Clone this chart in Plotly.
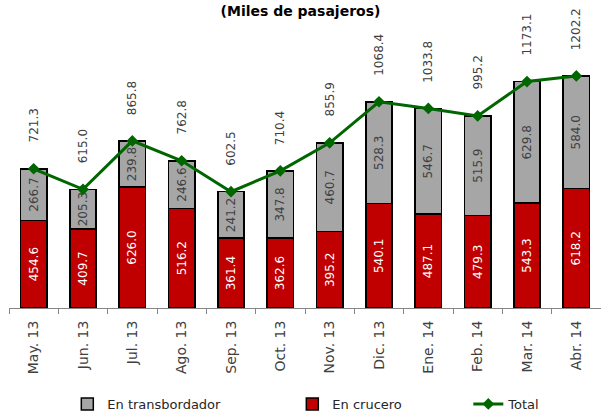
import plotly.graph_objects as go

meses = ["May. 13", "Jun. 13", "Jul. 13", "Ago. 13", "Sep. 13", "Oct. 13",
         "Nov. 13", "Dic. 13", "Ene. 14", "Feb. 14", "Mar. 14", "Abr. 14"]
crucero = [454.6, 409.7, 626.0, 516.2, 361.4, 362.6, 395.2, 540.1, 487.1, 479.3, 543.3, 618.2]
transbordador = [266.7, 205.3, 239.8, 246.6, 241.2, 347.8, 460.7, 528.3, 546.7, 515.9, 629.8, 584.0]
total = [721.3, 615.0, 865.8, 762.8, 602.5, 710.4, 855.9, 1068.4, 1033.8, 995.2, 1173.1, 1202.2]

FONT = "DejaVu Sans"

fig = go.Figure()
fig.add_trace(go.Bar(
    x=meses, y=crucero, name="En crucero",
    marker=dict(color="#C00000", line=dict(color="#000000", width=1.5)),
    text=[f"{v:.1f}" for v in crucero], textposition="inside",
    insidetextanchor="middle", textangle=-90, constraintext="none",
    textfont=dict(family=FONT, size=12, color="#FFFFFF"),
    legendrank=2, legendwidth=131, hoverinfo="skip",
))
fig.add_trace(go.Bar(
    x=meses, y=transbordador, name="En transbordador",
    marker=dict(color="#A6A6A6", line=dict(color="#000000", width=1.5)),
    text=[f"{v:.1f}" for v in transbordador], textposition="inside",
    insidetextanchor="middle", textangle=-90, constraintext="none",
    textfont=dict(family=FONT, size=12, color="#404040"),
    legendrank=1, legendwidth=180, hoverinfo="skip",
))
fig.add_trace(go.Scatter(
    x=meses, y=total, name="Total", mode="lines+markers",
    line=dict(color="#006600", width=3),
    marker=dict(symbol="diamond", size=9, color="#006600"),
    legendrank=3,
))

for m, t in zip(meses, total):
    fig.add_annotation(
        x=m, y=t, text=f"{t:.1f}", showarrow=False, textangle=-90,
        yanchor="bottom", yshift=24,
        font=dict(family=FONT, size=12, color="#404040"),
    )

fig.update_layout(
    width=601, height=411,
    margin=dict(l=9, r=0, t=20, b=103),
    paper_bgcolor="white", plot_bgcolor="white",
    barmode="stack", bargap=0.465,
    title=dict(text="<b>(Miles de pasajeros)</b>", x=0.5, xanchor="center",
               y=0.973, yanchor="middle",
               font=dict(family=FONT, size=14, color="#000000")),
    font=dict(family=FONT, size=13, color="#262626"),
    showlegend=True,
    legend=dict(orientation="h", traceorder="normal",
                xref="container", yref="container",
                x=0.112, xanchor="left", y=0.017, yanchor="middle",
                font=dict(family=FONT, size=13, color="#262626"),
                bgcolor="rgba(0,0,0,0)"),
    xaxis=dict(range=[-0.5, len(meses) - 0.5], showline=True, linecolor="#868686",
               linewidth=1, ticks="outside", tickson="boundaries", ticklen=5,
               tickcolor="#868686", tickangle=-90, ticklabelstandoff=6,
               tickfont=dict(family=FONT, size=14, color="#404040"),
               showgrid=False, fixedrange=True, automargin=False),
    yaxis=dict(range=[0, 1492], visible=False, showgrid=False, fixedrange=True,
               automargin=False),
)

fig.write_html("out.html", config={"displayModeBar": False},
               post_script="document.body.style.margin='0';document.body.style.padding='0';")
